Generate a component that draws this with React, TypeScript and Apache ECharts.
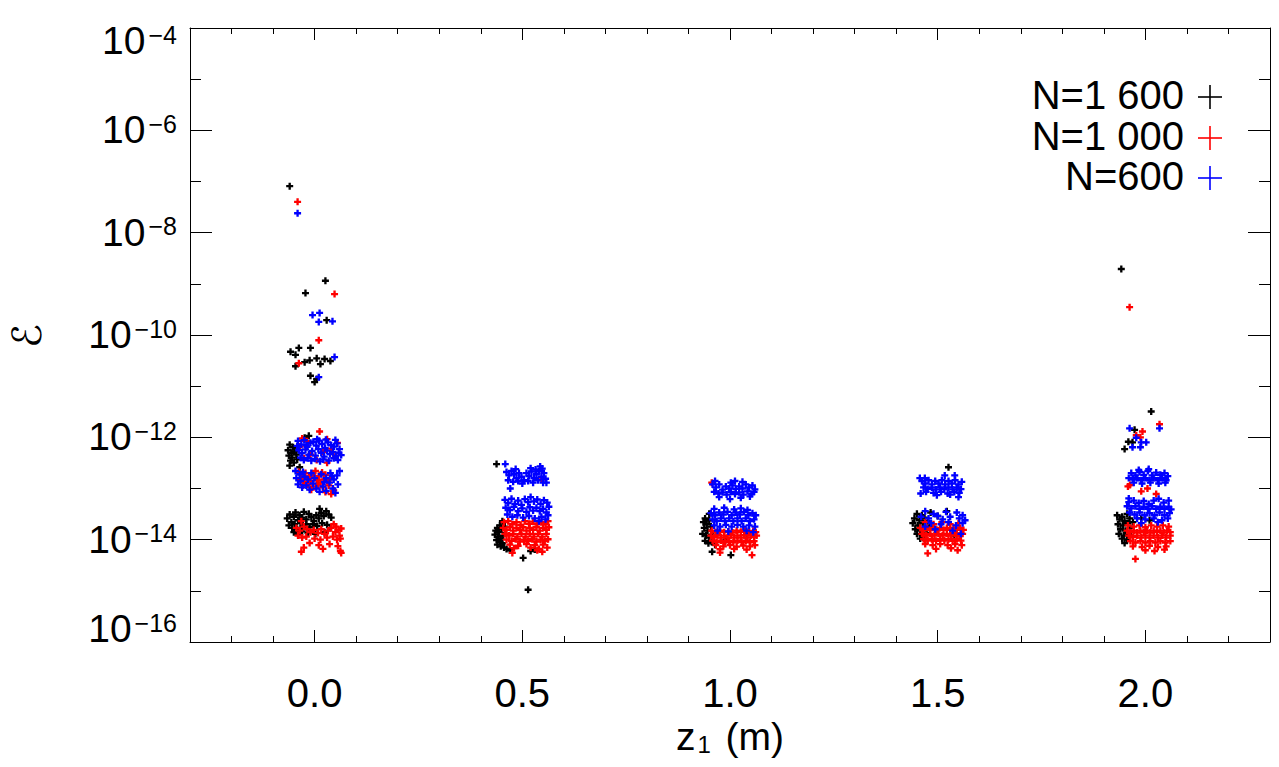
import React, { useEffect, useRef } from 'react';
import * as echarts from 'echarts';

// ---------- tick labels ----------
const X_TICK_LABELS = ['-0.3','-0.2','-0.1','0.0','0.1','0.2','0.3','0.4','0.5','0.6','0.7','0.8','0.9','1.0','1.1','1.2','1.3','1.4','1.5','1.6','1.7','1.8','1.9','2.0','2.1','2.2','2.3'];
const X_MAJOR_LABELS = ['0.0', '0.5', '1.0', '1.5', '2.0'];
const SERIES_NAMES = ['N=1 600', 'N=1 000', 'N=600'];
const SERIES_COLORS = ['#000000', '#ff0000', '#0000ff'];

// ---------- N=1 600 (black) ----------
const BLACK_Z00 = [
  [-0.060,8.1e-8],[0.026,1.15e-9],[-0.022,6.6e-10],[0.029,1.95e-10],
  [-0.038,5.6e-11],[-0.010,5.6e-11],[-0.058,4.7e-11],[-0.046,4.1e-11],[0.005,3.5e-11],[0.024,3.4e-11],[0.038,3.1e-11],[-0.012,3.2e-11],[-0.024,2.95e-11],[0.014,2.7e-11],[-0.046,2.45e-11],[-0.010,1.6e-11],[0.000,1.2e-11],[0.005,1.38e-11],
  [-0.014,1.07e-12],[-0.024,9.8e-13],[-0.060,7.2e-13],[-0.052,6.4e-13],[-0.064,5.6e-13],[-0.056,5.0e-13],[-0.048,5.3e-13],[-0.062,4.4e-13],[-0.054,4.0e-13],[-0.044,4.6e-13],[-0.058,3.5e-13],[-0.050,3.2e-13],[-0.042,3.7e-13],[-0.036,2.6e-13],[-0.060,2.8e-13],
  [-0.066,2.6e-14],[-0.060,3.1e-14],[-0.056,2.2e-14],[-0.050,2.8e-14],[-0.046,3.4e-14],[-0.040,2.4e-14],[-0.036,3.0e-14],[-0.030,2.7e-14],[-0.026,3.5e-14],[-0.020,2.5e-14],[-0.014,3.2e-14],[-0.008,2.8e-14],[-0.002,2.3e-14],[0.004,3.0e-14],[0.010,2.6e-14],[0.016,3.3e-14],[0.022,2.9e-14],[0.028,3.6e-14],[0.034,3.1e-14],[0.040,2.7e-14],[0.012,4.0e-14],
  [-0.062,1.9e-14],[-0.054,1.7e-14],[-0.048,2.0e-14],[-0.042,1.6e-14],[-0.034,2.1e-14],[-0.028,1.8e-14],[-0.020,2.0e-14],[-0.012,1.75e-14],[-0.004,2.0e-14],[0.006,1.85e-14],[0.018,2.1e-14],[0.030,1.95e-14],[0.038,1.7e-14],
  [-0.050,1.4e-14],[-0.040,1.3e-14],[-0.030,1.45e-14],[-0.016,1.35e-14],[0.002,1.3e-14],[0.024,1.4e-14],
];
const BLACK_Z05 = [
  [0.438,3.0e-13],
  [0.452,2.3e-14],[0.446,1.9e-14],[0.440,1.7e-14],[0.436,1.5e-14],[0.444,1.4e-14],[0.450,1.6e-14],[0.434,1.25e-14],[0.442,1.15e-14],[0.448,1.05e-14],[0.438,9.8e-15],[0.446,9.0e-15],[0.452,8.5e-15],[0.440,8.0e-15],[0.448,7.4e-15],[0.456,7.0e-15],[0.462,6.6e-15],[0.470,6.2e-15],[0.454,1.2e-14],[0.458,1.8e-14],
  [0.502,4.4e-15],[0.514,1.05e-15],[0.520,6.0e-15],[0.530,6.4e-15],
];
const BLACK_Z10 = [
  [0.950,3.2e-14],[0.940,2.6e-14],[0.936,2.2e-14],[0.944,2.0e-14],[0.950,2.4e-14],[0.938,1.7e-14],[0.946,1.5e-14],[0.954,1.8e-14],[0.934,1.3e-14],[0.942,1.2e-14],[0.950,1.1e-14],[0.958,1.25e-14],[0.940,9.5e-15],[0.948,8.5e-15],[0.956,9.0e-15],[0.964,8.0e-15],[0.957,5.8e-15],[1.002,5.0e-15],[1.040,1.3e-14],[0.990,1.0e-14],
];
const BLACK_Z15 = [
  [1.526,2.6e-13],
  [1.450,3.2e-14],[1.462,3.0e-14],[1.444,2.6e-14],[1.456,2.4e-14],[1.468,2.7e-14],[1.440,2.1e-14],[1.452,1.9e-14],[1.464,2.1e-14],[1.476,2.3e-14],[1.446,1.6e-14],[1.458,1.5e-14],[1.470,1.7e-14],[1.482,1.85e-14],[1.494,1.6e-14],[1.450,1.3e-14],[1.462,1.2e-14],[1.474,1.35e-14],[1.458,1.05e-14],[1.470,1.0e-14],[1.483,3.4e-14],[1.522,3.6e-14],[1.540,1.2e-14],[1.500,2.9e-14],
];
const BLACK_Z20 = [
  [1.942,1.95e-9],[2.014,3.2e-12],[1.974,1.4e-12],[1.959,8.2e-13],[1.969,8.0e-13],[1.950,5.9e-13],
  [1.932,3.0e-14],[1.944,2.8e-14],[1.956,3.2e-14],[1.938,2.5e-14],[1.950,2.3e-14],[1.962,2.6e-14],[1.934,2.0e-14],[1.946,1.9e-14],[1.958,2.1e-14],[1.970,2.2e-14],[1.940,1.6e-14],[1.952,1.5e-14],[1.964,1.7e-14],[1.936,1.3e-14],[1.948,1.2e-14],[1.960,1.3e-14],[1.944,1.05e-14],[1.956,1.0e-14],[1.950,8.6e-15],[1.990,2.6e-14],[2.010,2.4e-14],
];

// ---------- N=1 000 (red) ----------
const RED_Z00 = [
  [-0.041,4.0e-8],[0.048,6.3e-10],[0.010,7.9e-11],[-0.038,2.8e-11],
  [0.012,1.3e-12],[-0.030,9.5e-13],[-0.018,8.4e-13],[0.030,9.2e-13],[0.055,7.8e-13],[-0.035,6.6e-13],[0.040,6.0e-13],[0.020,5.2e-13],[-0.010,4.6e-13],[0.050,4.4e-13],[-0.025,3.9e-13],[0.005,3.6e-13],[0.030,3.2e-13],
  [-0.038,2.1e-13],[-0.030,1.8e-13],[-0.022,2.0e-13],[-0.014,1.7e-13],[-0.006,1.9e-13],[0.002,2.2e-13],[0.010,1.75e-13],[0.018,2.05e-13],[0.026,1.85e-13],[-0.034,1.5e-13],[-0.026,1.35e-13],[-0.018,1.55e-13],[-0.010,1.4e-13],[-0.002,1.6e-13],[0.006,1.45e-13],[0.014,1.3e-13],[0.022,1.5e-13],[0.030,1.4e-13],[0.038,1.55e-13],[-0.028,1.15e-13],[-0.016,1.2e-13],[-0.004,1.1e-13],[0.008,1.2e-13],[0.020,1.05e-13],[0.034,1.15e-13],[0.046,9.2e-14],[0.040,7.8e-14],[0.026,8.5e-14],[-0.008,9.5e-14],
  [-0.032,2.3e-14],[-0.044,1.7e-14],[-0.036,1.5e-14],[-0.026,1.8e-14],[-0.018,1.6e-14],[-0.010,1.4e-14],[-0.002,1.55e-14],[0.008,1.35e-14],[0.016,1.6e-14],[0.024,1.3e-14],[0.032,1.5e-14],[0.040,1.7e-14],[0.046,2.0e-14],[0.052,1.8e-14],[0.058,1.55e-14],[0.064,1.65e-14],[0.050,1.4e-14],[0.060,1.2e-14],
  [-0.040,1.2e-14],[-0.030,1.1e-14],[-0.020,1.15e-14],[0.000,1.05e-14],[0.014,1.0e-14],[0.030,1.1e-14],[0.044,1.15e-14],[0.054,1.0e-14],[0.062,1.05e-14],
  [-0.012,8.6e-15],[0.010,7.8e-15],[0.036,8.2e-15],[0.056,7.5e-15],[-0.026,7.0e-15],[0.020,6.6e-15],[0.062,6.0e-15],[0.064,5.5e-15],[-0.032,5.8e-15],
];
const RED_Z05 = [
  [0.546,1.5e-13],
  [0.456,2.2e-14],[0.466,2.3e-14],[0.476,2.0e-14],[0.486,2.2e-14],[0.496,1.95e-14],[0.506,2.3e-14],[0.516,2.05e-14],[0.526,2.25e-14],[0.536,2.0e-14],[0.546,2.2e-14],[0.556,2.0e-14],[0.562,2.3e-14],
  [0.454,1.7e-14],[0.462,1.55e-14],[0.470,1.75e-14],[0.478,1.5e-14],[0.486,1.7e-14],[0.494,1.55e-14],[0.502,1.75e-14],[0.510,1.5e-14],[0.518,1.7e-14],[0.526,1.55e-14],[0.534,1.75e-14],[0.542,1.5e-14],[0.550,1.7e-14],[0.558,1.55e-14],[0.564,1.75e-14],
  [0.458,1.3e-14],[0.468,1.2e-14],[0.478,1.3e-14],[0.488,1.15e-14],[0.498,1.3e-14],[0.508,1.15e-14],[0.518,1.3e-14],[0.528,1.15e-14],[0.538,1.3e-14],[0.548,1.15e-14],[0.558,1.3e-14],
  [0.462,1.0e-14],[0.474,9.5e-15],[0.484,1.02e-14],[0.494,9.2e-15],[0.504,1.0e-14],[0.514,9.4e-15],[0.524,1.02e-14],[0.534,9.2e-15],[0.544,1.0e-14],[0.554,9.4e-15],[0.562,1.02e-14],
  [0.470,8.0e-15],[0.490,7.6e-15],[0.510,8.2e-15],[0.530,7.8e-15],[0.550,8.0e-15],[0.480,6.8e-15],[0.520,7.0e-15],[0.540,6.6e-15],[0.560,7.0e-15],[0.476,5.5e-15],[0.548,5.8e-15],[0.536,6.2e-15],
];
const RED_Z10 = [
  [0.956,1.3e-13],
  [0.956,1.5e-14],[0.966,1.4e-14],[0.976,1.5e-14],[0.986,1.4e-14],[0.996,1.45e-14],[1.006,1.38e-14],[1.016,1.5e-14],[1.026,1.42e-14],[1.036,1.5e-14],[1.046,1.4e-14],[1.056,1.48e-14],[1.062,1.4e-14],
  [0.954,1.2e-14],[0.962,1.12e-14],[0.970,1.22e-14],[0.978,1.1e-14],[0.986,1.2e-14],[0.994,1.1e-14],[1.002,1.22e-14],[1.010,1.1e-14],[1.018,1.2e-14],[1.026,1.1e-14],[1.034,1.22e-14],[1.042,1.1e-14],[1.050,1.2e-14],[1.058,1.12e-14],[1.064,1.2e-14],
  [0.958,9.6e-15],[0.968,9.0e-15],[0.978,9.6e-15],[0.988,8.9e-15],[0.998,9.5e-15],[1.008,8.9e-15],[1.018,9.6e-15],[1.028,9.0e-15],[1.038,9.6e-15],[1.048,8.9e-15],[1.058,9.4e-15],
  [0.966,7.8e-15],[0.984,7.4e-15],[1.000,7.8e-15],[1.016,7.3e-15],[1.032,7.7e-15],[1.048,7.4e-15],[1.060,7.8e-15],
  [0.976,6.5e-15],[1.010,6.6e-15],[1.040,6.4e-15],[0.976,5.6e-15],[1.053,5.0e-15],
];
const RED_Z15 = [
  [1.470,2.2e-14],[1.490,2.0e-14],[1.510,2.2e-14],[1.530,2.0e-14],[1.550,2.1e-14],
  [1.458,1.7e-14],[1.466,1.55e-14],[1.474,1.7e-14],[1.482,1.55e-14],[1.490,1.7e-14],[1.498,1.55e-14],[1.506,1.7e-14],[1.514,1.55e-14],[1.522,1.7e-14],[1.530,1.55e-14],[1.538,1.7e-14],[1.546,1.55e-14],[1.554,1.7e-14],[1.562,1.55e-14],
  [1.462,1.3e-14],[1.472,1.2e-14],[1.482,1.3e-14],[1.492,1.2e-14],[1.502,1.3e-14],[1.512,1.2e-14],[1.522,1.3e-14],[1.532,1.2e-14],[1.542,1.3e-14],[1.552,1.2e-14],[1.560,1.3e-14],
  [1.466,1.02e-14],[1.476,9.6e-15],[1.486,1.02e-14],[1.496,9.5e-15],[1.506,1.02e-14],[1.516,9.6e-15],[1.526,1.02e-14],[1.536,9.5e-15],[1.546,1.02e-14],[1.556,9.6e-15],
  [1.470,8.2e-15],[1.488,7.8e-15],[1.506,8.2e-15],[1.524,7.8e-15],[1.542,8.2e-15],[1.558,7.8e-15],[1.496,6.6e-15],[1.532,6.8e-15],[1.548,6.2e-15],[1.476,5.4e-15],
];
const RED_Z20 = [
  [1.962,3.5e-10],[2.034,1.8e-12],[1.993,1.3e-12],[1.978,1.1e-12],[1.988,1.0e-12],
  [1.963,1.17e-13],[1.958,1.1e-13],[2.005,1.0e-13],[1.990,8.8e-14],[2.026,7.8e-14],
  [1.958,1.9e-14],[1.972,1.8e-14],[1.986,1.9e-14],[2.000,1.75e-14],[2.014,1.9e-14],[2.028,1.8e-14],[2.042,1.9e-14],[2.056,1.8e-14],
  [1.956,1.5e-14],[1.964,1.4e-14],[1.972,1.5e-14],[1.980,1.38e-14],[1.988,1.5e-14],[1.996,1.4e-14],[2.004,1.5e-14],[2.012,1.38e-14],[2.020,1.5e-14],[2.028,1.4e-14],[2.036,1.5e-14],[2.044,1.38e-14],[2.052,1.5e-14],[2.060,1.4e-14],
  [1.960,1.2e-14],[1.970,1.12e-14],[1.980,1.2e-14],[1.990,1.1e-14],[2.000,1.2e-14],[2.010,1.1e-14],[2.020,1.2e-14],[2.030,1.1e-14],[2.040,1.2e-14],[2.050,1.1e-14],[2.060,1.2e-14],
  [1.964,9.4e-15],[1.976,8.8e-15],[1.988,9.4e-15],[2.000,8.8e-15],[2.012,9.4e-15],[2.024,8.8e-15],[2.036,9.4e-15],[2.048,8.8e-15],[2.060,9.4e-15],
  [1.970,7.4e-15],[1.992,7.2e-15],[2.010,7.6e-15],[2.030,7.2e-15],[2.050,7.4e-15],[2.000,6.2e-15],[2.022,6.0e-15],[2.046,6.4e-15],[1.976,4.2e-15],
];

// ---------- N=600 (blue) ----------
const BLUE_Z00 = [
  [-0.041,2.4e-8],[-0.005,2.45e-10],[0.012,2.7e-10],[0.010,1.8e-10],[0.043,1.85e-10],[0.048,3.7e-11],[0.010,1.5e-11],
  [-0.040,8.5e-13],[-0.032,7.2e-13],[-0.025,8.8e-13],[-0.018,6.5e-13],[-0.010,7.8e-13],[-0.003,8.2e-13],[0.004,6.9e-13],[0.011,8.6e-13],[0.018,7.4e-13],[0.025,6.2e-13],[0.032,8.0e-13],[0.040,7.0e-13],[0.047,6.6e-13],[0.054,7.6e-13],[0.060,5.9e-13],
  [-0.038,5.6e-13],[-0.030,4.9e-13],[-0.022,5.8e-13],[-0.014,4.6e-13],[-0.006,5.4e-13],[0.002,4.4e-13],[0.009,5.9e-13],[0.016,5.0e-13],[0.023,4.2e-13],[0.030,5.5e-13],[0.037,4.7e-13],[0.044,5.2e-13],[0.051,4.3e-13],[0.058,5.0e-13],[0.064,4.5e-13],
  [-0.034,4.0e-13],[-0.026,3.6e-13],[-0.017,3.9e-13],[-0.008,3.5e-13],[0.001,3.8e-13],[0.013,3.4e-13],[0.021,3.7e-13],[0.034,3.5e-13],[0.046,3.9e-13],[0.056,3.6e-13],
  [-0.042,6.8e-13],[0.006,9.2e-13],[0.027,9.0e-13],[0.050,8.9e-13],[-0.020,7.0e-13],
  [-0.046,2.2e-13],[-0.036,1.9e-13],[-0.028,2.1e-13],[-0.044,1.6e-13],[-0.034,1.4e-13],[-0.024,1.7e-13],[-0.040,1.2e-13],[-0.030,1.05e-13],[-0.020,1.15e-13],[-0.012,9.5e-14],[-0.004,1.25e-13],[0.004,1.0e-13],[0.012,8.6e-14],[0.020,1.1e-13],[0.028,9.0e-14],[0.036,1.3e-13],[0.044,1.0e-13],[0.050,8.2e-14],[0.056,1.2e-13],[0.046,1.5e-13],[0.054,1.8e-13],[0.038,2.0e-13],[0.060,2.2e-13],[0.028,1.6e-13],[0.016,1.9e-13],[-0.008,2.0e-13],[0.000,1.6e-13],[0.042,1.75e-13],[-0.016,1.5e-13],[0.024,1.35e-13],
];
const BLUE_Z05 = [
  [0.459,3.0e-13],[0.543,2.7e-13],[0.471,1.0e-13],[0.558,1.3e-13],
  [0.462,2.1e-13],[0.468,1.8e-13],[0.474,2.2e-13],[0.480,1.9e-13],[0.486,1.6e-13],[0.492,2.0e-13],[0.498,1.7e-13],[0.504,1.45e-13],[0.510,2.0e-13],[0.516,1.75e-13],[0.522,2.15e-13],[0.528,1.6e-13],[0.534,1.9e-13],[0.540,2.2e-13],[0.546,1.7e-13],[0.552,2.0e-13],[0.556,1.55e-13],
  [0.466,1.45e-13],[0.478,1.35e-13],[0.490,1.4e-13],[0.500,1.25e-13],[0.514,1.4e-13],[0.526,1.3e-13],[0.538,1.45e-13],[0.550,1.3e-13],[0.484,2.4e-13],[0.520,2.5e-13],[0.532,2.35e-13],[0.548,2.45e-13],
  [0.458,6.0e-14],[0.466,5.2e-14],[0.474,6.3e-14],[0.482,5.0e-14],[0.490,5.8e-14],[0.498,4.8e-14],[0.506,6.2e-14],[0.514,5.4e-14],[0.520,6.8e-14],[0.528,5.6e-14],[0.536,6.1e-14],[0.544,5.0e-14],[0.552,5.9e-14],[0.560,5.3e-14],
  [0.460,4.2e-14],[0.470,3.8e-14],[0.480,4.4e-14],[0.490,3.6e-14],[0.500,4.1e-14],[0.510,3.5e-14],[0.518,4.3e-14],[0.526,3.7e-14],[0.534,4.2e-14],[0.542,3.6e-14],[0.550,4.0e-14],[0.558,3.4e-14],[0.564,4.4e-14],
  [0.464,3.1e-14],[0.476,2.8e-14],[0.488,3.0e-14],[0.502,2.7e-14],[0.516,2.9e-14],[0.530,2.6e-14],[0.546,2.8e-14],[0.556,2.5e-14],[0.562,3.0e-14],[0.540,2.3e-14],
];
const BLUE_Z10 = [
  [0.958,1.2e-13],[0.966,1.05e-13],[0.974,1.2e-13],[0.982,9.5e-14],[0.990,1.1e-13],[0.998,1.0e-13],[1.006,1.15e-13],[1.014,9.8e-14],[1.022,1.1e-13],[1.030,1.0e-13],[1.038,1.2e-13],[1.046,1.05e-13],[1.054,1.15e-13],[1.060,9.6e-14],
  [0.962,8.6e-14],[0.972,8.0e-14],[0.982,8.4e-14],[0.992,7.6e-14],[1.002,8.6e-14],[1.012,7.8e-14],[1.022,8.4e-14],[1.032,7.6e-14],[1.042,8.8e-14],[1.052,7.8e-14],[1.058,8.6e-14],
  [0.974,6.8e-14],[1.000,6.2e-14],[1.026,6.6e-14],[1.048,7.0e-14],[0.964,1.4e-13],[1.012,1.4e-13],[1.030,1.35e-13],[1.002,1.3e-13],
  [0.962,4.0e-14],[0.986,4.2e-14],[1.010,3.9e-14],[1.026,4.1e-14],[1.042,3.8e-14],
  [0.954,3.3e-14],[0.964,3.0e-14],[0.974,3.4e-14],[0.984,3.1e-14],[0.994,3.5e-14],[1.004,3.0e-14],[1.014,3.4e-14],[1.024,3.1e-14],[1.034,3.5e-14],[1.044,3.0e-14],[1.054,3.3e-14],[1.062,3.0e-14],
  [0.958,2.5e-14],[0.968,2.3e-14],[0.978,2.6e-14],[0.988,2.3e-14],[0.998,2.6e-14],[1.008,2.3e-14],[1.018,2.6e-14],[1.028,2.3e-14],[1.038,2.6e-14],[1.048,2.3e-14],[1.058,2.5e-14],
  [0.962,1.9e-14],[0.976,1.8e-14],[0.990,1.95e-14],[1.004,1.8e-14],[1.018,1.95e-14],[1.032,1.8e-14],[1.046,1.9e-14],[1.060,1.8e-14],
  [0.970,1.5e-14],[0.996,1.45e-14],[1.040,1.5e-14],[1.056,1.4e-14],
];
const BLUE_Z15 = [
  [1.457,1.6e-13],[1.469,1.6e-13],[1.517,1.8e-13],[1.541,1.8e-13],[1.550,6.8e-14],[1.459,8.0e-14],
  [1.462,1.4e-13],[1.470,1.25e-13],[1.478,1.45e-13],[1.486,1.2e-13],[1.494,1.4e-13],[1.502,1.25e-13],[1.510,1.45e-13],[1.518,1.2e-13],[1.526,1.4e-13],[1.534,1.25e-13],[1.542,1.45e-13],[1.550,1.2e-13],[1.558,1.35e-13],
  [1.466,1.05e-13],[1.476,9.8e-14],[1.486,1.05e-13],[1.496,9.6e-14],[1.506,1.05e-13],[1.516,9.7e-14],[1.526,1.05e-13],[1.536,9.6e-14],[1.546,1.05e-13],[1.556,9.7e-14],
  [1.472,8.6e-14],[1.490,8.2e-14],[1.508,8.6e-14],[1.524,8.0e-14],[1.540,8.5e-14],[1.552,8.2e-14],[1.498,7.4e-14],[1.530,7.6e-14],
  [1.470,3.6e-14],[1.490,3.2e-14],[1.520,3.5e-14],[1.546,3.4e-14],[1.560,3.0e-14],[1.460,2.8e-14],[1.478,2.6e-14],[1.500,2.9e-14],[1.512,2.5e-14],[1.530,2.8e-14],[1.552,2.6e-14],[1.566,2.4e-14],[1.484,2.1e-14],[1.508,2.0e-14],[1.526,2.2e-14],[1.544,1.9e-14],[1.560,2.1e-14],[1.494,1.6e-14],[1.536,1.5e-14],[1.556,1.3e-14],[1.470,1.8e-14],
];
const BLUE_Z20 = [
  [2.034,1.5e-12],[1.962,1.5e-12],[1.978,9.8e-13],[1.990,8.0e-13],[2.002,8.0e-13],[1.969,6.4e-13],[1.988,6.4e-13],
  [1.966,2.0e-13],[1.976,1.8e-13],[1.986,2.1e-13],[1.996,1.85e-13],[2.006,2.2e-13],[2.016,1.8e-13],[2.026,2.05e-13],[2.036,1.85e-13],[2.046,2.0e-13],[2.054,1.75e-13],
  [1.960,1.6e-13],[1.970,1.5e-13],[1.980,1.6e-13],[1.990,1.45e-13],[2.000,1.6e-13],[2.010,1.45e-13],[2.020,1.6e-13],[2.030,1.45e-13],[2.040,1.6e-13],[2.050,1.45e-13],
  [1.972,1.3e-13],[1.992,1.25e-13],[2.012,1.3e-13],[2.032,1.25e-13],[2.048,1.3e-13],[2.008,2.4e-13],[1.984,2.3e-13],
  [1.960,6.4e-14],[1.960,5.4e-14],[1.972,5.8e-14],[1.984,5.2e-14],[1.996,5.7e-14],[2.008,5.0e-14],[2.020,5.8e-14],[2.032,6.3e-14],[2.044,5.3e-14],[2.056,5.8e-14],
  [1.956,4.5e-14],[1.966,4.1e-14],[1.976,4.5e-14],[1.986,4.0e-14],[1.996,4.4e-14],[2.006,4.0e-14],[2.016,4.5e-14],[2.026,4.0e-14],[2.036,4.4e-14],[2.046,4.0e-14],[2.056,4.4e-14],[2.062,3.9e-14],
  [1.962,3.4e-14],[1.974,3.1e-14],[1.986,3.4e-14],[1.998,3.0e-14],[2.010,3.3e-14],[2.022,3.0e-14],[2.034,3.4e-14],[2.046,3.0e-14],[2.058,3.3e-14],
  [1.980,2.6e-14],[2.000,2.5e-14],[2.020,2.6e-14],[2.040,2.4e-14],[2.054,2.6e-14],[1.990,2.1e-14],[2.030,2.2e-14],
];

const BLACK_POINTS = [...BLACK_Z00, ...BLACK_Z05, ...BLACK_Z10, ...BLACK_Z15, ...BLACK_Z20];
const RED_POINTS = [...RED_Z00, ...RED_Z05, ...RED_Z10, ...RED_Z15, ...RED_Z20];
const BLUE_POINTS = [...BLUE_Z00, ...BLUE_Z05, ...BLUE_Z10, ...BLUE_Z15, ...BLUE_Z20];
const SERIES_POINTS = [BLACK_POINTS, RED_POINTS, BLUE_POINTS];

const FONT = 'Liberation Sans';
const PLUS = 'path://M2,0L4,0L4,2L6,2L6,4L4,4L4,6L2,6L2,4L0,4L0,2L2,2Z';

function yLabel(v: number): string {
  const e = Math.round(Math.log10(v));
  const main = `{b|10}{s|\u2212${-e}}`;
  if (e === -4) return `{g| }\n${main}`;
  if (e === -16) return `${main}\n{g| }`;
  return main;
}

export default function App() {
  const ref = useRef<HTMLDivElement>(null);
  useEffect(() => {
    if (!ref.current) return;
    const chart = echarts.init(ref.current, undefined, { renderer: 'svg' });
    const grid = { left: 190, right: 9, top: 28, bottom: 125, outerBoundsMode: 'none', containLabel: false };
    const valueX = (position: string) => ({
      type: 'value', gridIndex: 0, position, min: -0.3, max: 2.3, interval: 0.1,
      axisLine: { show: true, onZero: false, lineStyle: { color: '#000', width: 1 } },
      axisTick: { show: true, inside: true, length: 6, lineStyle: { color: '#000', width: 1 } },
      axisLabel: { show: false }, splitLine: { show: false },
    });
    const catX = (position: string, labels: boolean) => ({
      type: 'category', gridIndex: 0, position, data: X_TICK_LABELS, boundaryGap: false,
      axisLine: { show: false },
      axisTick: { show: true, inside: true, length: 12, lineStyle: { color: '#000', width: 1 },
        interval: (_i: number, v: string) => X_MAJOR_LABELS.includes(v) },
      axisLabel: { show: labels, interval: (_i: number, v: string) => X_MAJOR_LABELS.includes(v),
        fontSize: 40, fontFamily: FONT, color: '#000', margin: 31, lineHeight: 40 },
      splitLine: { show: false },
      ...(labels ? {
        name: '{a|z}{s|1}{a| (m)}', nameLocation: 'middle', nameGap: 74, nameMoveOverlap: false,
        nameTextStyle: { rich: {
          a: { fontSize: 39, fontFamily: FONT, color: '#000', lineHeight: 40, verticalAlign: 'bottom' },
          s: { fontSize: 24, fontFamily: FONT, color: '#000', lineHeight: 24, padding: [18, 4, 0, 2], verticalAlign: 'bottom' },
        } },
      } : {}),
    });
    const logY = (position: string, interval: number, len: number, labels: boolean) => ({
      type: 'log', logBase: 10, gridIndex: 0, position, min: 1e-16, max: 1e-4, interval,
      axisLine: { show: interval === 1, onZero: false, lineStyle: { color: '#000', width: 1 } },
      axisTick: { show: true, inside: true, length: len, lineStyle: { color: '#000', width: 1 } },
      axisLabel: { show: labels, margin: 13, formatter: yLabel, rich: {
        b: { fontSize: 39, fontFamily: FONT, color: '#000', lineHeight: 38, padding: [6, 0, 0, 0], verticalAlign: 'bottom' },
        s: { fontSize: 25, fontFamily: FONT, color: '#000', lineHeight: 25, padding: [0, 0, 0, 3], verticalAlign: 'top' },
        g: { fontSize: 10, fontFamily: FONT, color: '#000', lineHeight: 26 },
      } },
      splitLine: { show: false }, minorTick: { show: false },
    });
    const series = SERIES_POINTS.map((pts, i) => ({
      type: 'scatter', name: SERIES_NAMES[i], xAxisIndex: 0, yAxisIndex: 0, data: pts,
      symbol: PLUS, symbolSize: 7, itemStyle: { color: SERIES_COLORS[i], opacity: 1 },
      emphasis: { disabled: true }, z: 2 + i,
    }));
    const legendRows = [95, 136, 176];
    const graphic: any[] = [
      { type: 'text', x: 27, y: 336, rotation: Math.PI / 2,
        style: { text: '\u2130', fill: '#000', font: '40px "DejaVu Sans"', align: 'center', verticalAlign: 'middle' } },
    ];
    SERIES_NAMES.forEach((name, i) => {
      const y = legendRows[i];
      graphic.push({ type: 'text', x: 1184, y, style: { text: name, fill: '#000', font: `40px "${FONT}"`, align: 'right', verticalAlign: 'middle' } });
      graphic.push({ type: 'line', shape: { x1: 1198, y1: y + 2, x2: 1222, y2: y + 2 }, style: { stroke: SERIES_COLORS[i], lineWidth: 1.6 } });
      graphic.push({ type: 'line', shape: { x1: 1210, y1: y - 10, x2: 1210, y2: y + 14 }, style: { stroke: SERIES_COLORS[i], lineWidth: 1.6 } });
    });
    chart.setOption({
      animation: false,
      backgroundColor: '#ffffff',
      grid,
      xAxis: [valueX('bottom'), catX('bottom', true), valueX('top'), catX('top', false)],
      yAxis: [logY('left', 1, 11, false), logY('left', 2, 22, true), logY('right', 1, 11, false), logY('right', 2, 22, false)],
      series,
      graphic,
    });
    return () => chart.dispose();
  }, []);
  return <div ref={ref} style={{ position: 'fixed', left: 0, top: 0, width: 1279, height: 767, background: '#fff' }} />;
}
